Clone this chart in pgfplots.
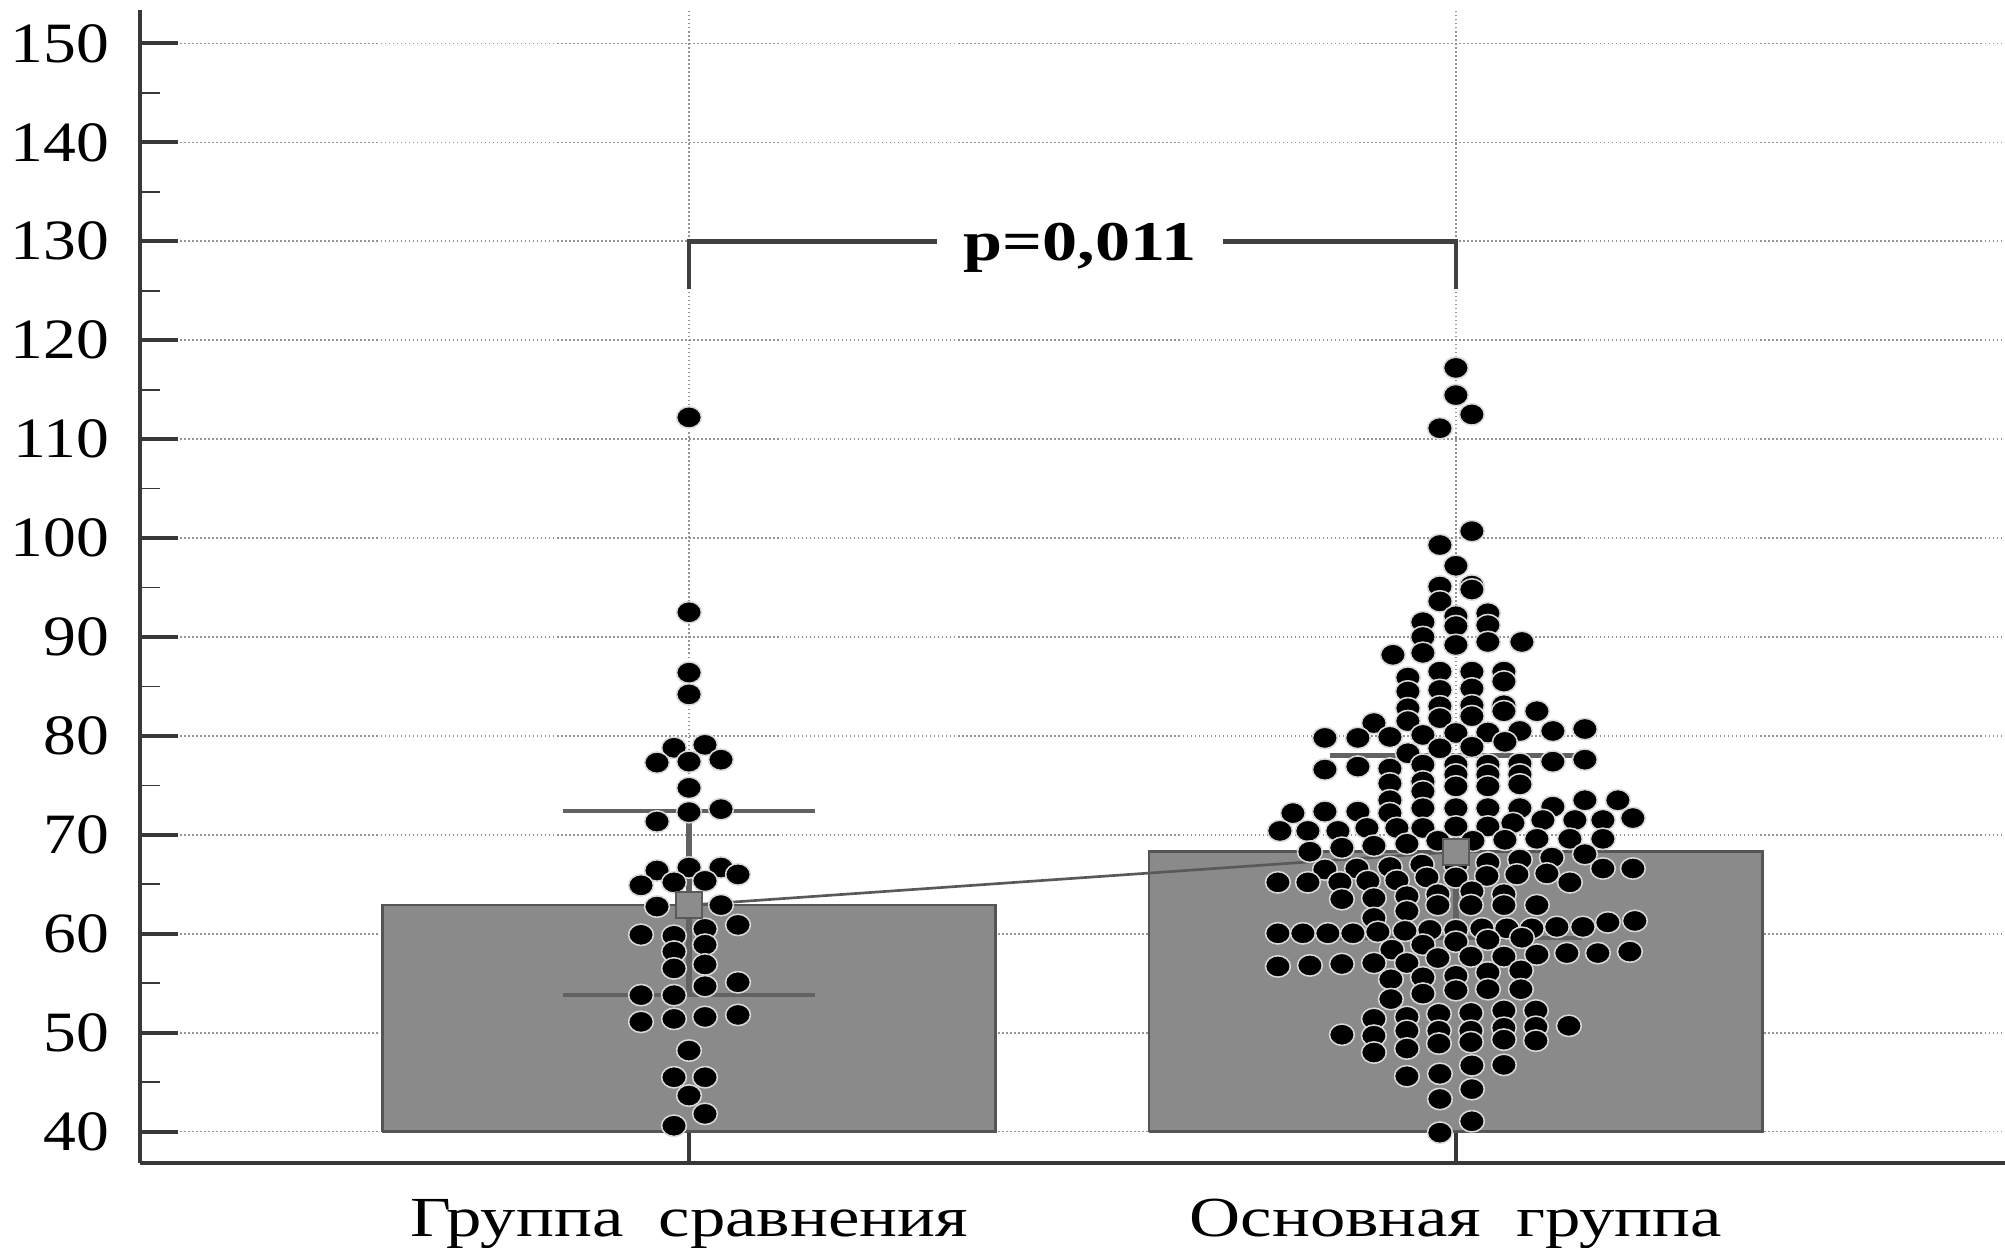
\documentclass[border=0pt]{standalone}
\usepackage{fontspec}
\setmainfont{Liberation Serif}
\usepackage{graphicx}
\usepackage{pgfplots}
\pgfplotsset{compat=1.18}
\usepackage{pgfplotstable}

\definecolor{barfill}{HTML}{8A8A8A}
\definecolor{bardraw}{HTML}{555555}
\definecolor{axisc}{HTML}{383838}
\definecolor{sdc}{HTML}{626262}

% offsets dx in pixels of the reference (767 px = one category step)
\pgfplotstableread{
dx v
0 112.2
0 92.5
0 86.4
0 84.2
-15 78.8
16 79.1
-32 77.3
0 77.4
32 77.6
0 74.75
0 72.3
32 72.6
-32 71.35
-32 66.4
0 66.7
32 66.7
49 66.0
-48 64.9
-15 65.2
16 65.35
-32 62.75
32 62.9
-48 59.9
-15 59.8
16 60.5
49 60.9
-15 58.2
16 58.9
-15 56.5
16 56.9
16 54.7
49 55.1
-48 53.8
-15 53.8
-48 51.1
-15 51.4
16 51.6
49 51.8
0 48.2
-15 45.5
16 45.5
0 43.65
16 41.8
-15 40.6
}\groupA

\pgfplotstableread{
dx v
0 117.2
0 114.45
16 112.5
-16 111.1
16 100.7
-16 99.3
0 97.2
-16 95.1
-16 93.6
16 95.2
16 94.8
-33 91.5
-33 90.0
0 92.1
0 91.1
32 92.4
32 91.2
0 89.2
32 89.5
66 89.5
-63 88.2
-33 88.4
-48 85.9
-48 84.5
-48 82.8
-48 81.5
-16 86.5
-16 84.65
-16 83.0
-16 81.8
16 86.5
16 84.8
16 83.1
16 82.0
48 86.5
48 85.5
48 83.1
48 82.5
81 82.5
-82 81.3
-131 79.8
-98 79.8
-66 79.9
-33 80.1
0 80.3
32 80.35
64 80.5
97 80.5
129 80.7
49 79.4
-48 78.25
-16 78.75
16 78.9
-131 76.6
-98 76.9
-66 76.7
-66 75.2
-66 73.5
-66 72.2
-33 77.1
-33 75.4
-33 74.4
-33 72.7
0 77.1
0 76.1
0 74.9
0 72.7
32 77.1
32 76.1
32 74.9
32 72.7
64 77.2
64 76.1
64 75.1
64 72.7
97 77.4
129 77.6
-163 72.2
-131 72.35
-98 72.35
97 72.85
129 73.5
162 73.5
-176 70.4
-148 70.4
-118 70.4
-89 70.7
-59 70.7
-33 70.7
0 70.85
32 70.85
57 71.2
87 71.5
119 71.5
147 71.5
177 71.7
-146 68.3
-114 68.7
-82 68.9
-49 69.1
-18 69.4
17 69.4
49 69.5
81 69.6
114 69.6
147 69.6
-131 66.5
-99 66.6
-66 66.75
-34 67.0
0 67.0
32 67.2
64 67.5
96 67.7
129 68.05
147 66.6
177 66.6
-178 65.2
-148 65.2
-116 65.2
-88 65.35
-59 65.4
-29 65.7
0 65.7
31 65.85
61 66.0
91 66.1
114 65.2
-114 63.5
-82 63.6
-49 63.8
-18 64.0
16 64.3
48 64.0
-18 62.9
15 62.9
48 62.9
81 62.9
-49 62.3
-82 61.6
-178 60.05
-153 60.05
-128 60.05
-103 60.05
-78 60.2
-51 60.3
-26 60.4
0 60.4
26 60.55
51 60.55
76 60.55
101 60.7
127 60.7
152 61.15
179 61.3
-64 58.4
-33 58.9
0 59.2
32 59.4
66 59.6
-178 56.7
-146 56.8
-114 56.95
-82 57.05
-49 57.05
-18 57.55
15 57.7
48 57.7
81 57.9
111 58.05
142 58.05
174 58.2
-65 55.4
-33 55.6
0 55.75
32 56.1
65 56.3
-65 53.4
-33 53.95
0 54.3
32 54.4
65 54.4
-82 51.4
-82 49.7
-82 48.0
-114 49.8
-49 51.6
-49 50.2
-49 48.4
-17 51.9
-17 50.2
-17 48.9
15 52.0
15 50.2
15 49.05
48 52.25
48 50.5
48 49.3
80 52.25
80 50.6
80 49.2
113 50.7
-49 45.6
-16 45.85
16 46.7
48 46.75
16 44.3
-16 43.3
16 41.05
-16 39.9
}\groupB

\begin{document}
\begin{tikzpicture}
\begin{axis}[
  scale only axis,
  width=418.6pt, height=258.9pt,
  xmin=-0.716, xmax=1.716,
  ymin=36.8, ymax=153.4,
  axis x line*=bottom, axis y line*=left,
  axis line style={-, draw=axisc, line width=0.9pt},
  tick align=inside,
  xtick={0,1},
  xticklabels={{\scalebox{1.25}[1]{Группа\hspace{0.5em}сравнения}},{\scalebox{1.25}[1]{Основная\hspace{0.5em}группа}}},
  xticklabel style={font=\fontsize{12.7}{12.7}\selectfont, inner sep=0pt, anchor=north, yshift=-7.9pt},
  ytick={40,50,...,150},
  minor ytick={45,55,...,145},
  /pgf/number format/assume math mode=true,
  yticklabel={\scalebox{1.15}[1]{\pgfmathprintnumber{\tick}}},
  yticklabel style={font=\fontsize{12.8}{12.8}\selectfont, inner sep=0pt, anchor=east, xshift=-6.7pt},
  major tick length=8.6pt,
  minor tick length=4.5pt,
  every major tick/.style={draw=axisc, line width=0.9pt},
  every minor tick/.style={draw=axisc, line width=0.4pt},
  ymajorgrids, xmajorgrids,
  major grid style={dash pattern=on 0.35pt off 0.55pt, draw=black!42, line width=0.35pt},
  clip=false,
]
% bars from 40 to the mean
\addplot[fill=barfill, draw=bardraw, line width=0.6pt] coordinates {(-0.4,40) (-0.4,62.9) (0.4,62.9) (0.4,40) (-0.4,40)};
\addplot[fill=barfill, draw=bardraw, line width=0.6pt] coordinates {(0.6,40) (0.6,68.3) (1.4,68.3) (1.4,40) (0.6,40)};
% SD lines
\addplot[draw=sdc, line width=1.35pt] coordinates {(0,53.8) (0,72.4)};
\addplot[draw=sdc, line width=1.0pt] coordinates {(-0.164,72.4) (0.164,72.4)};
\addplot[draw=sdc, line width=1.0pt] coordinates {(-0.164,53.8) (0.164,53.8)};
\addplot[draw=sdc, line width=1.35pt] coordinates {(1,59.6) (1,78.0)};
\addplot[draw=sdc, line width=1.0pt] coordinates {(0.836,78.0) (1.164,78.0)};
\addplot[draw=sdc, line width=1.0pt] coordinates {(0.836,59.6) (1.164,59.6)};
% individual values
\addplot[only marks, mark=*, mark size=2.4pt, mark options={xscale=1.16, fill=black, draw=white!85!black, line width=0.35pt}] table[x expr=\thisrow{dx}/767, y=v] {\groupA};
\addplot[only marks, mark=*, mark size=2.4pt, mark options={xscale=1.16, fill=black, draw=white!85!black, line width=0.35pt}] table[x expr=1+\thisrow{dx}/767, y=v] {\groupB};
% means
\addplot[draw=black!65, line width=0.6pt, mark=square*, mark size=2.9pt, mark options={fill=black!45, draw=black!65, line width=0.4pt}] coordinates {(0,62.9) (1,68.3)};
% bracket
\addplot[draw=black!75, line width=1.0pt] coordinates {(0,125.2) (0,130) (1,130) (1,125.2)};
\node[fill=white, inner xsep=6pt, inner ysep=2pt, anchor=base, yshift=-4.3pt, font=\bfseries\fontsize{12.6}{12.6}\selectfont] at (axis cs:0.51,130) {\scalebox{1.25}[1]{p=0,011}};
\end{axis}
\pgfresetboundingbox
\path[use as bounding box] ([xshift=-31.4pt,yshift=-19pt]current axis.south west) rectangle ([yshift=2.2pt]current axis.north east);
\end{tikzpicture}
\end{document}
